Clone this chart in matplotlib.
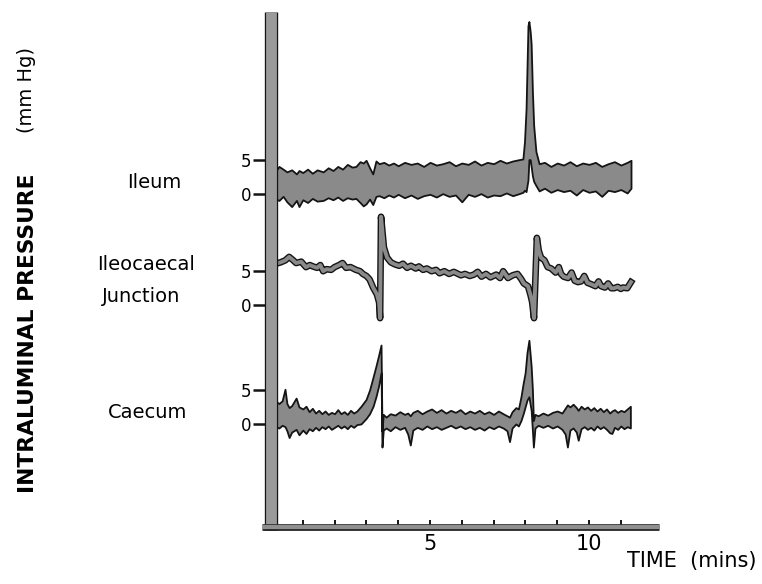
import numpy as np
import matplotlib
matplotlib.use('Agg')
import matplotlib.pyplot as plt
import matplotlib.patheffects as pe
from matplotlib import font_manager

W, H = 762, 584

# --- data (time in mins, pressure in mm Hg) ---
# ileum: (t, lower edge, upper edge) of the trace band
ileum = [
    (0.10, -0.6, 3.0), (0.25, -1.0, 4.0), (0.38, -0.4, 3.6), (0.50, -1.2, 3.2),
    (0.65, -1.9, 3.5), (0.80, -1.0, 2.9), (0.88, -1.9, 3.4), (1.00, -0.9, 3.1),
    (1.15, -1.3, 3.6), (1.30, -0.7, 3.0), (1.45, -1.1, 3.5), (1.64, -1.0, 3.2),
    (1.80, -0.6, 3.8), (1.95, -0.9, 3.4), (2.10, -0.5, 4.0), (2.25, -1.0, 3.6),
    (2.40, -0.6, 4.3), (2.55, -0.8, 3.9), (2.67, -0.7, 4.0), (2.80, -1.3, 4.7),
    (2.90, -1.8, 4.5), (2.99, -1.5, 4.9), (3.10, -0.8, 3.8), (3.20, -1.6, 2.9),
    (3.30, -0.4, 4.8), (3.40, -0.3, 4.4), (3.55, -0.6, 4.6), (3.70, -0.2, 4.2),
    (3.85, -0.5, 4.5), (4.00, -0.1, 4.1), (4.20, -0.6, 4.6), (4.40, -0.2, 4.3),
    (4.60, -0.7, 4.5), (4.80, -0.3, 4.0), (5.00, -0.1, 4.6), (5.20, -0.5, 4.2),
    (5.40, 0.0, 4.4), (5.60, -0.4, 4.7), (5.80, -0.2, 4.1), (6.00, -1.2, 4.5),
    (6.20, -0.1, 4.3), (6.40, -0.4, 4.8), (6.60, 0.0, 4.2), (6.80, -0.5, 4.6),
    (7.00, -0.2, 4.4), (7.20, -0.3, 4.9), (7.40, 0.1, 4.5), (7.60, -0.3, 4.8),
    (7.80, 0.0, 5.0), (7.92, 0.2, 5.1), (7.97, 0.5, 7.6), (8.02, 0.3, 12.5),
    (8.08, 2.0, 24.7), (8.11, 5.0, 25.3), (8.15, 5.0, 23.8), (8.18, 4.0, 22.0),
    (8.22, 2.6, 15.0), (8.26, 1.8, 10.0), (8.33, 1.2, 6.2), (8.43, 0.4, 4.4),
    (8.60, 0.8, 4.6), (8.80, 0.2, 4.0), (9.00, 0.6, 4.5), (9.20, 0.3, 4.2),
    (9.40, 0.5, 4.7), (9.60, -0.2, 4.1), (9.80, 0.6, 4.5), (10.00, 0.2, 4.3),
    (10.20, 0.4, 4.6), (10.40, -0.4, 4.0), (10.60, 0.5, 4.4), (10.80, 0.3, 4.7),
    (11.00, 0.6, 4.2), (11.20, 0.1, 4.6), (11.32, 0.8, 4.9),
]

# ileocaecal junction: thin trace, (t, pressure)
icj = [
    (0.15, 6.1), (0.30, 6.3), (0.45, 6.6), (0.57, 7.1), (0.70, 6.6), (0.79, 6.2),
    (0.95, 6.4), (1.10, 5.6), (1.22, 5.9), (1.32, 5.7), (1.45, 5.5), (1.55, 5.9),
    (1.64, 5.0), (1.75, 5.3), (1.89, 5.2), (2.00, 5.6), (2.14, 5.9), (2.25, 6.2),
    (2.36, 5.5), (2.50, 5.6), (2.67, 5.2), (2.80, 5.0), (2.89, 4.6), (3.00, 4.3),
    (3.10, 3.8), (3.21, 2.6), (3.33, 1.6), (3.40, 0.4), (3.43, -1.9), (3.46, 13.0),
    (3.50, 11.0), (3.55, 8.5), (3.65, 7.0), (3.77, 6.3), (3.90, 6.0), (4.03, 5.8),
    (4.15, 6.1), (4.28, 5.5), (4.40, 5.8), (4.55, 5.4), (4.65, 5.7), (4.78, 5.2),
    (4.90, 5.4), (5.05, 5.0), (5.19, 5.2), (5.30, 4.7), (5.45, 5.0), (5.60, 4.6),
    (5.75, 4.9), (5.97, 4.4), (6.10, 4.6), (6.25, 4.3), (6.38, 4.5), (6.50, 4.9),
    (6.62, 4.2), (6.76, 4.6), (6.90, 4.1), (7.08, 4.5), (7.20, 4.0), (7.30, 5.0),
    (7.45, 4.0), (7.60, 4.4), (7.75, 4.6), (7.86, 3.9), (7.95, 3.2), (8.08, 2.8),
    (8.16, 1.5), (8.21, 0.5), (8.27, -1.9), (8.36, 9.9), (8.42, 8.0), (8.49, 7.0),
    (8.60, 6.6), (8.70, 5.6), (8.81, 5.4), (8.95, 4.8), (9.05, 5.6), (9.12, 4.6),
    (9.20, 4.2), (9.34, 4.0), (9.45, 4.8), (9.55, 3.6), (9.65, 3.4), (9.75, 3.5),
    (9.85, 4.3), (9.95, 3.3), (10.06, 3.1), (10.20, 2.8), (10.30, 3.5), (10.38, 2.8),
    (10.50, 2.6), (10.60, 3.2), (10.70, 2.5), (10.79, 2.5), (10.90, 2.7), (11.00, 2.4),
    (11.07, 2.6), (11.20, 2.5), (11.32, 3.4),
]

# caecum: (t, lower edge, upper edge)
caecum = [
    (0.10, -0.3, 3.5), (0.25, -0.6, 3.0), (0.35, -0.2, 3.4), (0.44, -0.4, 5.1),
    (0.50, -1.0, 3.0), (0.57, -2.0, 2.4), (0.65, -1.2, 2.7), (0.79, -0.8, 3.8),
    (0.88, -1.6, 2.5), (1.00, -0.9, 2.2), (1.10, -1.4, 2.6), (1.20, -0.7, 1.8),
    (1.30, -1.0, 2.3), (1.40, -0.5, 1.6), (1.50, -0.9, 2.0), (1.60, -0.4, 1.5),
    (1.70, -0.7, 1.9), (1.80, -0.3, 1.4), (1.90, -0.8, 1.7), (2.00, -0.5, 1.5),
    (2.10, -0.2, 2.1), (2.20, -0.6, 1.5), (2.30, -0.3, 1.8), (2.40, -0.7, 1.4),
    (2.50, -0.2, 2.0), (2.60, -0.5, 1.6), (2.70, -0.1, 1.9), (2.83, 0.0, 2.6),
    (2.99, 0.8, 3.6), (3.10, 1.5, 5.0), (3.21, 2.6, 6.9), (3.30, 4.0, 8.5),
    (3.38, 5.5, 10.0), (3.46, 7.5, 11.6), (3.49, -3.4, -1.0), (3.53, -0.9, 1.4),
    (3.62, -0.6, 1.0), (3.75, -1.0, 1.5), (3.90, -0.4, 1.3), (4.05, -0.8, 1.8),
    (4.20, -0.5, 1.4), (4.30, -1.5, 1.6), (4.38, -3.1, 1.2), (4.46, -0.9, 1.7),
    (4.60, -0.5, 2.0), (4.75, -0.8, 1.5), (4.90, -0.3, 1.9), (5.05, -0.7, 2.2),
    (5.20, -0.4, 1.7), (5.35, -0.8, 2.1), (5.50, -0.5, 1.6), (5.65, -0.2, 2.0),
    (5.80, -0.6, 1.7), (5.95, -0.3, 2.1), (6.10, -0.7, 1.5), (6.25, -0.4, 1.9),
    (6.40, -0.8, 1.6), (6.55, -0.5, 2.0), (6.70, -0.9, 1.5), (6.85, -0.4, 1.8),
    (7.00, -0.7, 1.4), (7.15, -0.3, 1.9), (7.30, -0.6, 1.5), (7.42, -1.0, 1.2),
    (7.50, -2.6, 1.0), (7.58, -0.6, 1.8), (7.70, 0.0, 2.4), (7.78, -0.3, 2.2),
    (7.86, 0.5, 4.0), (7.93, 1.5, 6.0), (7.99, 2.5, 7.5), (8.05, 3.5, 10.5),
    (8.11, 4.0, 12.3), (8.18, 2.0, 8.5), (8.22, -1.0, 5.0), (8.25, -3.4, 0.5),
    (8.30, -0.6, 1.4), (8.40, -0.2, 1.2), (8.55, -0.5, 1.6), (8.70, -0.2, 1.3),
    (8.85, -0.6, 1.7), (9.00, -0.3, 1.9), (9.15, -0.8, 1.6), (9.25, -1.5, 2.3),
    (9.32, -3.4, 2.8), (9.40, -0.9, 2.5), (9.50, -0.6, 2.9), (9.60, -1.2, 2.4),
    (9.66, -2.4, 2.0), (9.75, -0.7, 2.6), (9.85, -0.4, 2.2), (9.95, -0.8, 2.5),
    (10.05, -0.5, 2.0), (10.15, -0.9, 2.4), (10.25, -0.3, 1.9), (10.35, -0.7, 2.3),
    (10.45, -0.4, 1.8), (10.55, -0.8, 2.2), (10.65, -1.3, 1.6), (10.72, -1.4, 1.9),
    (10.80, -0.5, 2.1), (10.90, -0.8, 1.7), (11.00, -0.3, 2.0), (11.10, -0.7, 1.8),
    (11.20, -0.4, 2.2), (11.30, -0.6, 2.6),
]

# baseline of each channel on the shared vertical scale
offsets = {"Ileum": 49.0, "Ileocaecal": 32.6, "Caecum": 15.15}
ytick_vals = [0, 5]
xtick_major = [5, 10]
xtick_minor = list(range(1, 12))

# --- fonts ---
names = {f.name for f in font_manager.fontManager.ttflist}
narrow = "Liberation Sans Narrow" if "Liberation Sans Narrow" in names else "DejaVu Sans"
has_narrow = narrow != "DejaVu Sans"

TRACE = "#8a8a8a"
EDGE = "#141414"

fig = plt.figure(figsize=(W / 100, H / 100), dpi=100)
ax = fig.add_axes([271 / W, (H - 527) / H, 388 / W, 515 / H])
ax.set_xlim(0, 12.2)
ax.set_ylim(0, 75.7)
for s in ax.spines.values():
    s.set_visible(False)

# ileum band
t, lo, hi = map(np.array, zip(*ileum))
off = offsets["Ileum"]
ax.fill_between(t, lo + off, hi + off, facecolor=TRACE, edgecolor=EDGE, lw=1.3, zorder=3)

# ileocaecal line
t, p = map(np.array, zip(*icj))
off = offsets["Ileocaecal"]
ax.plot(t, p + off, color=TRACE, lw=2.8, zorder=3,
        path_effects=[pe.Stroke(linewidth=4.8, foreground=EDGE), pe.Normal()])

# caecum band
t, lo, hi = map(np.array, zip(*caecum))
off = offsets["Caecum"]
ax.fill_between(t, lo + off, hi + off, facecolor=TRACE, edgecolor=EDGE, lw=1.3, zorder=3)

# heavy axis bars
ax.plot([0, 0], [-0.45, 75.7], color="#9a9a9a", lw=7.8, solid_capstyle="butt",
        zorder=5, clip_on=False,
        path_effects=[pe.Stroke(linewidth=9.6, foreground=EDGE), pe.Normal()])
ax.plot([-0.28, 12.2], [0, 0], color="#8f8f8f", lw=3.2, solid_capstyle="butt",
        zorder=5, clip_on=False,
        path_effects=[pe.Stroke(linewidth=4.8, foreground=EDGE), pe.Normal()])

# y ticks: 0 and 5 for each channel
yt, yl = [], []
for name in ["Caecum", "Ileocaecal", "Ileum"]:
    for v in ytick_vals:
        yt.append(offsets[name] + v)
        yl.append(str(v))
ax.set_yticks(yt)
ax.set_yticklabels(yl, fontfamily=narrow, fontsize=13 if has_narrow else 12)
ax.tick_params(axis="y", length=13, width=1.8, direction="out", pad=1, color=EDGE)

ax.set_xticks(xtick_major)
ax.set_xticklabels([str(v) for v in xtick_major], fontsize=15, fontfamily="DejaVu Sans")
ax.set_xticks(xtick_minor, minor=True)
ax.tick_params(axis="x", which="both", length=5, width=1.4, direction="in", pad=5, color=EDGE)


def ftxt(x, y, s, **kw):
    fig.text(x / W, 1 - y / H, s, **kw)


ftxt(154, 183, "Ileum", ha="center", va="center", fontsize=14)
ftxt(146, 265, "Ileocaecal", ha="center", va="center", fontsize=14)
ftxt(141, 296, "Junction", ha="center", va="center", fontsize=14)
ftxt(148, 412, "Caecum", ha="center", va="center", fontsize=14)

ftxt(28, 333, "INTRALUMINAL PRESSURE", ha="center", va="center", rotation=90,
     fontweight="bold", fontfamily=narrow, fontsize=20 if has_narrow else 15.7)
ftxt(27, 90, "(mm Hg)", ha="center", va="center", rotation=90, fontsize=14)
ftxt(627, 561, "TIME  (mins)", ha="left", va="center",
     fontfamily=narrow, fontsize=17 if has_narrow else 15)

fig.savefig("out.png", dpi=100)
